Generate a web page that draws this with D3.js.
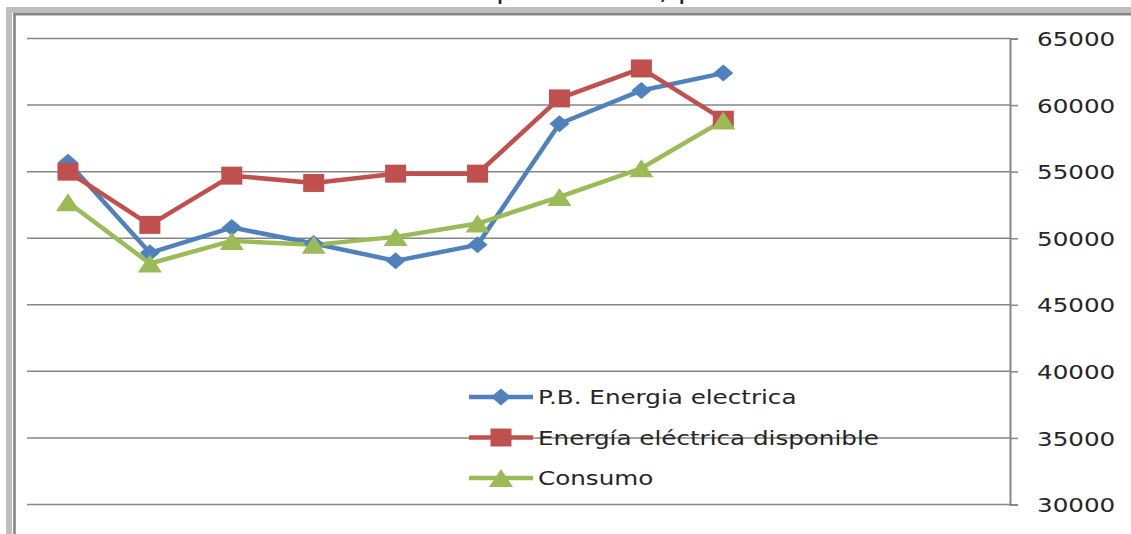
<!DOCTYPE html>
<html>
<head>
<meta charset="utf-8">
<script src="https://cdn.jsdelivr.net/npm/d3@7"></script>
<style>
  body { margin: 0; background: #fff; }
  svg { display: block; }
  text { font-family: "DejaVu Sans", Verdana, sans-serif; fill: #262626; }
</style>
</head>
<body>
<div id="main"></div>
<script>
var categories = ['2000', '2001', '2002', '2003', '2004', '2005', '2006', '2007', '2008', '2009', '2010', '2011'];
var seriesNames = ['P.B. Energia electrica', 'Energía eléctrica disponible', 'Consumo'];
var produccion = [55700, 48900, 50800, 49600, 48300, 49500, 58600, 61100, 62400];
var disponible = [55000, 51000, 54700, 54150, 54850, 54850, 60500, 62750, 58900];
var consumo = [52700, 48100, 49800, 49500, 50100, 51100, 53100, 55250, 58850];
var yTicks = [30000, 35000, 40000, 45000, 50000, 55000, 60000, 65000];
var titleText = 'Electricidad: producción, pérdidas';

var width = 1131,
    height = 534,
    stretch = 1.23;

var colors = ['#4f81bd', '#c0504d', '#9bbb59'];
var series = [produccion, disponible, consumo];

var svg = d3.select('#main').append('svg')
    .attr('width', width)
    .attr('height', height);

// outer frame (cut by the picture on right and bottom)
svg.append('rect')
    .attr('x', 9).attr('y', 10)
    .attr('width', 2000).attr('height', 2000)
    .attr('fill', 'none')
    .attr('stroke', '#bfbfbf')
    .attr('stroke-width', 6);
svg.append('rect')
    .attr('x', 14.5).attr('y', 14.2)
    .attr('width', 2000).attr('height', 2000)
    .attr('fill', 'none')
    .attr('stroke', '#868686')
    .attr('stroke-width', 2.6);

var x = d3.scalePoint()
    .domain(categories)
    .range([27, 1010])
    .padding(0.5);

var y = d3.scaleLinear()
    .domain([30000, 65000])
    .range([504.5, 38.5]);

// gridlines
svg.append('g')
    .attr('class', 'grid')
  .selectAll('line')
    .data(yTicks)
  .enter().append('line')
    .attr('x1', 27)
    .attr('x2', 1010)
    .attr('y1', function(d) { return y(d); })
    .attr('y2', function(d) { return y(d); })
    .attr('stroke', '#868686')
    .attr('stroke-width', 1.5);

// right axis
var yAxis = d3.axisRight(y)
    .tickValues(yTicks)
    .tickSize(8)
    .tickFormat(d3.format('d'));

var axisG = svg.append('g')
    .attr('class', 'axis axis--y')
    .attr('transform', 'translate(1010,0)')
    .call(yAxis);
axisG.select('.domain').attr('stroke', '#868686').attr('stroke-width', 2);
axisG.selectAll('.tick line').attr('stroke', '#868686').attr('stroke-width', 1.5);
axisG.selectAll('.tick text')
    .attr('x', 27)
    .attr('dy', '0.36em')
    .style('font-size', '20px')
    .style('font-family', '"DejaVu Sans", Verdana, sans-serif')
    .attr('fill', '#262626')
    .each(function() {
      var w = this.getComputedTextLength();
      d3.select(this).attr('textLength', w * stretch).attr('lengthAdjust', 'spacingAndGlyphs');
    });

var line = d3.line()
    .x(function(d, i) { return x(categories[i]); })
    .y(function(d) { return y(d); });

function markerPath(k) {
  if (k === 0) return 'M0,-8.5L10,0L0,8.5L-10,0Z';
  if (k === 1) return 'M-10.5,-9H10.5V9H-10.5Z';
  return 'M0,-9L12,9L-12,9Z';
}

series.forEach(function(vals, k) {
  svg.append('path')
      .datum(vals)
      .attr('d', line)
      .attr('fill', 'none')
      .attr('stroke', colors[k])
      .attr('stroke-width', 4.5)
      .attr('stroke-linejoin', 'round');
});

series.forEach(function(vals, k) {
  svg.append('g').selectAll('path')
      .data(vals)
    .enter().append('path')
      .attr('transform', function(d, i) { return 'translate(' + x(categories[i]) + ',' + y(d) + ')'; })
      .attr('d', markerPath(k))
      .attr('fill', colors[k]);
});

// legend
var legend = svg.append('g').attr('class', 'legend');
var legendRows = [397, 437.5, 478];
seriesNames.forEach(function(name, k) {
  var g = legend.append('g').attr('transform', 'translate(0,' + legendRows[k] + ')');
  g.append('line')
      .attr('x1', 469).attr('x2', 533)
      .attr('stroke', colors[k])
      .attr('stroke-width', 4.5);
  g.append('path')
      .attr('transform', 'translate(501,0)')
      .attr('d', markerPath(k))
      .attr('fill', colors[k]);
  var t = g.append('text')
      .attr('x', 538)
      .attr('dy', '0.36em')
      .style('font-size', '20px')
      .text(name);
  t.attr('textLength', t.node().getComputedTextLength() * stretch)
   .attr('lengthAdjust', 'spacingAndGlyphs');
});

// title, mostly cut off at the top edge (only descenders show, as in the picture)
var titleG = svg.append('g');
var title = titleG.append('text')
    .attr('x', 0)
    .attr('y', -1.5)
    .style('font-size', '24px')
    .text(titleText);
var pIndex = titleText.indexOf('p');
var px = title.node().getStartPositionOfChar(pIndex).x;
titleG.attr('transform', 'translate(' + (496 - px * stretch) + ',0) scale(' + stretch + ',1)');
</script>
</body>
</html>
